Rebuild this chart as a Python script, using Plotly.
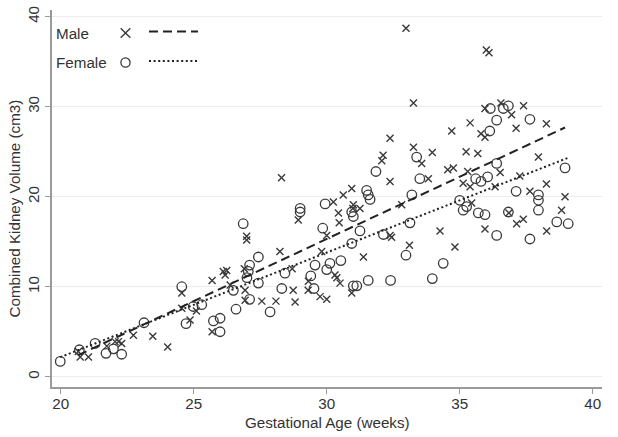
import numpy as np
import plotly.graph_objects as go

# ---------------- data ----------------
male_age = [20.66, 20.73, 21.04, 21.73, 22.04, 22.17, 22.29, 22.73, 23.46, 24.02,
            24.55, 24.55, 24.86, 25.10, 25.69, 25.69, 26.11, 26.18, 26.24, 26.37,
            26.90, 26.93, 26.93, 26.99, 26.99, 27.56, 28.09, 28.24, 28.30, 28.70,
            28.74, 28.81, 28.93, 29.31, 29.30, 29.75, 29.81, 30.00, 30.00, 30.25,
            30.31, 30.38, 30.50, 30.44, 30.47, 30.62, 30.94, 30.98, 31.00, 31.25,
            30.94, 31.38, 32.07, 32.12, 32.38, 32.38, 32.38, 32.44, 32.82, 32.98,
            33.11, 33.26, 33.26, 33.57, 33.82, 33.97, 34.26, 34.55, 34.70, 34.76,
            34.82, 35.13, 35.24, 35.39, 35.45, 35.39, 35.30, 35.68, 35.80, 35.95,
            35.95, 35.95, 36.00, 36.10, 36.33, 36.52, 36.55, 36.85, 36.95, 37.12,
            37.14, 37.26, 37.40, 37.39, 37.64, 37.96, 38.26, 38.26, 38.27, 38.83,
            38.96]
male_vol = [2.8, 2.2, 2.2, 3.4, 3.9, 3.9, 3.7, 4.6, 4.5, 3.3,
            9.3, 7.6, 6.3, 7.3, 5.0, 10.7, 11.7, 11.3, 11.8, 10.2,
            12.0, 9.6, 8.5, 15.2, 15.6, 8.4, 8.4, 13.9, 22.1, 12.0,
            9.6, 8.3, 17.4, 10.6, 9.6, 8.9, 13.9, 8.6, 15.7, 19.4,
            11.3, 11.0, 10.4, 18.2, 17.1, 20.2, 20.9, 18.7, 19.1, 18.7,
            9.3, 13.3, 24.0, 24.6, 26.5, 21.7, 15.7, 15.5, 19.1, 38.7,
            14.6, 30.4, 25.5, 23.7, 22.0, 24.9, 16.2, 23.0, 27.3, 23.2,
            14.4, 21.5, 25.0, 28.2, 19.3, 21.1, 22.8, 24.8, 27.0, 26.6,
            29.8, 16.4, 36.3, 36.0, 21.1, 22.7, 30.4, 18.2, 29.1, 27.6,
            17.0, 22.3, 30.1, 17.5, 20.6, 24.4, 28.1, 21.4, 16.2, 18.5,
            20.0]

female_age = [19.98, 20.70, 21.29, 21.70, 21.98, 22.29, 23.13, 24.55, 24.71, 24.98,
              25.30, 25.74, 25.99, 25.99, 26.49, 26.59, 26.86, 27.05, 27.10, 27.10,
              27.00, 27.43, 27.43, 27.87, 28.43, 28.31, 29.00, 29.00, 29.40, 29.56,
              29.52, 29.85, 29.94, 30.00, 30.12, 30.53, 30.94, 30.94, 31.00, 31.25,
              31.00, 31.13, 31.50, 31.56, 31.63, 31.56, 31.85, 32.13, 32.40, 32.98,
              33.13, 33.20, 33.38, 33.50, 33.97, 34.38, 35.00, 35.13, 35.26, 35.60,
              35.80, 36.05, 35.70, 35.95, 36.15, 36.64, 36.83, 36.39, 36.13, 36.39,
              36.39, 36.83, 37.12, 37.64, 37.64, 37.96, 37.96, 37.96, 38.65, 39.08,
              38.96]
female_vol = [1.7, 3.0, 3.7, 2.6, 3.1, 2.5, 6.0, 10.0, 5.9, 7.8,
              8.0, 6.2, 5.0, 6.5, 9.6, 7.5, 17.0, 11.7, 12.4, 8.6,
              11.0, 13.3, 10.4, 7.2, 11.5, 9.8, 18.3, 18.7, 11.2, 12.4,
              9.8, 16.5, 19.2, 11.9, 12.6, 12.9, 14.8, 18.3, 17.8, 16.2,
              10.1, 10.1, 20.7, 20.2, 19.7, 10.7, 22.8, 15.8, 10.7, 13.5,
              17.1, 20.2, 24.4, 22.0, 10.9, 12.6, 19.6, 18.5, 18.9, 22.0,
              21.7, 22.2, 18.2, 18.0, 29.8, 29.8, 30.1, 28.5, 27.3, 23.7,
              15.7, 18.3, 20.6, 28.6, 15.3, 20.2, 19.6, 18.5, 17.2, 17.0,
              23.2]

x_ticks = [20, 25, 30, 35, 40]
y_ticks = [0, 10, 20, 30, 40]
series_names = ["Male", "Female"]

# ---------------- styling / layout ----------------
W, H = 618, 437
ML, MR, MT, MB = 52, 16, 10, 50
FONT = "Liberation Sans, Arial, Helvetica, sans-serif"
INK = "#3a3a3a"
TXT = "#333333"
AX = "#9a9a9a"
FS = 15.2


def px2paper(px, py):
    pw = W - ML - MR
    ph = H - MT - MB
    return (px - ML) / pw, (H - MB - py) / ph


def fit_line(xs, ys):
    xs = np.asarray(xs)
    ys = np.asarray(ys)
    b, a = np.polyfit(xs, ys, 1)
    xx = np.array([xs.min(), xs.max()])
    return xx, a + b * xx


fig = go.Figure()

fig.add_trace(go.Scatter(
    x=male_age, y=male_vol, mode="markers", name=series_names[0],
    marker=dict(symbol="x-thin-open", size=7, color=INK,
                line=dict(color=INK, width=1.4)),
    showlegend=False))
fig.add_trace(go.Scatter(
    x=female_age, y=female_vol, mode="markers", name=series_names[1],
    marker=dict(symbol="circle-open", size=9.5, color=INK,
                line=dict(color=INK, width=1.3)),
    showlegend=False))

mx, my = fit_line(male_age, male_vol)
fx, fy = fit_line(female_age, female_vol)
fig.add_trace(go.Scatter(x=mx, y=my, mode="lines", showlegend=False,
                         line=dict(color="#222222", width=2, dash="9px,5px")))
fig.add_trace(go.Scatter(x=fx, y=fy, mode="lines", showlegend=False,
                         line=dict(color="#222222", width=2, dash="2px,2.6px")))

# ---------------- manual Stata-like legend ----------------
shapes = []
annotations = []
leg = [
    (series_names[0], 33, "x", "9px,5px"),
    (series_names[1], 62.5, "o", "2px,2.6px"),
]
for label, py, sym, dash in leg:
    lx, ly = px2paper(54, py)
    annotations.append(dict(xref="paper", yref="paper", x=lx, y=ly, text=label,
                            showarrow=False, xanchor="left", yanchor="middle",
                            font=dict(family=FONT, size=FS, color=TXT)))
    cx = 125.5
    if sym == "x":
        for dy in (-1, 1):
            x0, y0 = px2paper(cx - 4.8, py - 4.8 * dy)
            x1, y1 = px2paper(cx + 4.8, py + 4.8 * dy)
            shapes.append(dict(type="line", xref="paper", yref="paper",
                               x0=x0, y0=y0, x1=x1, y1=y1,
                               line=dict(color=INK, width=1.4)))
    else:
        x0, y0 = px2paper(cx - 4.6, py + 4.6)
        x1, y1 = px2paper(cx + 4.6, py - 4.6)
        shapes.append(dict(type="circle", xref="paper", yref="paper",
                           x0=x0, y0=y0, x1=x1, y1=y1,
                           line=dict(color=INK, width=1.3)))
    x0, y0 = px2paper(149, py - 1.5)
    x1, _ = px2paper(198, py - 1.5)
    shapes.append(dict(type="line", xref="paper", yref="paper",
                       x0=x0, y0=y0, x1=x1, y1=y0,
                       line=dict(color="#222222", width=2, dash=dash)))

# axis titles as annotations
annotations.append(dict(xref="paper", yref="paper", x=0.5, y=0, yshift=-35,
                        text="Gestational Age (weeks)", showarrow=False,
                        xanchor="center", yanchor="middle",
                        font=dict(family=FONT, size=FS, color=TXT)))
annotations.append(dict(xref="paper", yref="paper", x=0, y=0.5, xshift=-38,
                        yshift=-10,
                        text="Combined Kidney Volume (cm3)", showarrow=False,
                        textangle=-90, xanchor="center", yanchor="middle",
                        font=dict(family=FONT, size=FS, color=TXT)))

fig.update_layout(
    width=W, height=H,
    margin=dict(l=ML, r=MR, t=MT, b=MB, autoexpand=False),
    paper_bgcolor="white", plot_bgcolor="white",
    font=dict(family=FONT, size=FS, color=TXT),
    shapes=shapes, annotations=annotations,
    showlegend=False,
    xaxis=dict(range=[19.67, 40.35], tickvals=x_ticks,
               ticktext=[str(t) for t in x_ticks],
               showgrid=False, zeroline=False,
               showline=True, linecolor=AX, linewidth=1.6,
               ticks="outside", ticklen=5, tickcolor=AX, tickwidth=1.4,
               ticklabelstandoff=-3,
               tickfont=dict(family=FONT, size=FS, color=TXT)),
    yaxis=dict(range=[-1.14, 40.74], tickvals=y_ticks,
               ticktext=[str(t) for t in y_ticks],
               showgrid=True, gridcolor="#ececec", gridwidth=1,
               zeroline=False,
               showline=True, linecolor=AX, linewidth=1.6,
               ticks="outside", ticklen=5, tickcolor=AX, tickwidth=1.4,
               tickangle=-90,
               tickfont=dict(family=FONT, size=FS, color=TXT)),
)

fig.write_html(
    "out.html",
    config={"displayModeBar": False},
    post_script="document.body.style.margin='0';document.body.style.overflow='hidden';",
)
